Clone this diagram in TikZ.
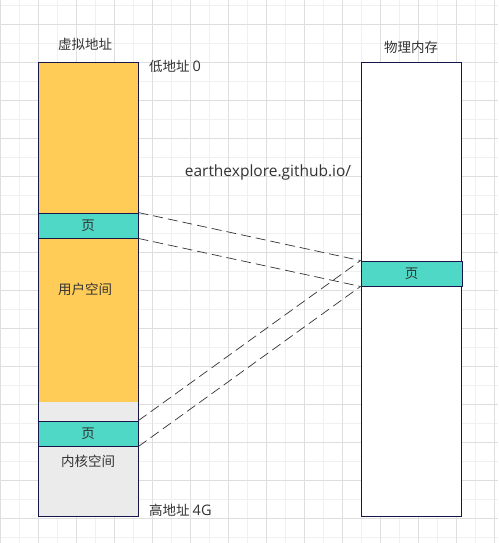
\documentclass[tikz,border=0pt]{standalone}
\usepackage{fontspec}
\setmainfont{Noto Sans CJK SC}
\newfontfamily\latina{Open Sans}
\usetikzlibrary{positioning}
\definecolor{gridfino}{HTML}{F0F0F0}
\definecolor{gridgrueso}{HTML}{DEDEDE}
\definecolor{amarillo}{HTML}{FFCC57}
\definecolor{turquesa}{HTML}{4FD8C5}
\definecolor{grisclaro}{HTML}{EBEBEB}
\definecolor{borde}{HTML}{16164A}
\definecolor{texto}{HTML}{333333}
\tikzset{
  caja/.style={draw=borde, line width=0.9pt},
  pagina/.style={caja, fill=turquesa, minimum width=100pt, minimum height=25pt,
    inner sep=0pt, text=texto, font=\fontsize{13.5}{16}\selectfont},
  etiqueta/.style={text=texto, inner sep=0pt, font=\fontsize{13.5}{16}\selectfont},
  enlace/.style={draw=texto, line width=0.7pt, dash pattern=on 10pt off 5pt}
}

\begin{document}
\begin{tikzpicture}[x=1pt, y=-1pt]
    \useasboundingbox (0,0) rectangle (498,543);
    % cuadricula de fondo
    \fill[white] (0,0) rectangle (498,543);
    \foreach \i in {0,...,26} {
      \draw[gridfino, line width=0.8pt] (\i*19,0) -- (\i*19,543);
    }
    \foreach \j in {0,...,28} {
      \draw[gridfino, line width=0.8pt] (0,5.3+\j*19) -- (498,5.3+\j*19);
    }
    \foreach \i in {0,...,13} {
      \draw[gridgrueso, line width=0.8pt] (\i*38,0) -- (\i*38,543);
    }
    \foreach \j in {0,...,13} {
      \draw[gridgrueso, line width=0.8pt] (0,24.3+\j*38) -- (498,24.3+\j*38);
    }
    % memoria virtual: espacio de usuario y de nucleo
    \fill[amarillo] (38,62) rectangle (138,402);
    \fill[grisclaro] (38,402) rectangle (138,516);
    \draw[caja] (38,62) rectangle (138,516);
    \node[pagina] (pagUsuario) at (88,225.5) {页};
    \node[pagina] (pagNucleo) at (88,433.5) {页};
    % memoria fisica
    \draw[caja, fill=white] (361,62) rectangle (461,516);
    \node[pagina, minimum width=101pt] (pagFisica) at (411.5,273.5) {页};
    % textos
    \node[etiqueta] (tVirtual) at (85,44) {虚拟地址};
    \node[etiqueta] (tFisica) at (411,47) {物理内存};
    \node[etiqueta, anchor=west] (tBajo) at (149,66) {低地址 {\latina\fontsize{14.5}{16}\selectfont 0}};
    \node[etiqueta, anchor=west] (tAlto) at (149,510) {高地址 {\latina\fontsize{14.5}{16}\selectfont 4G}};
    \node[etiqueta] (tWeb) at (268,172) {\latina\fontsize{15.5}{18}\selectfont earthexplore.github.io/};
    \node[etiqueta] (tUsuario) at (85,289) {用户空间};
    \node[etiqueta] (tNucleo) at (88,461) {内核空间};
    % correspondencias
    \draw[enlace] (pagUsuario.north east) -- (pagFisica.north west);
    \draw[enlace] (pagUsuario.south east) -- (pagFisica.south west);
    \draw[enlace] (pagNucleo.north east) -- (pagFisica.north west);
    \draw[enlace] (pagNucleo.south east) -- (pagFisica.south west);
\end{tikzpicture}
\end{document}
